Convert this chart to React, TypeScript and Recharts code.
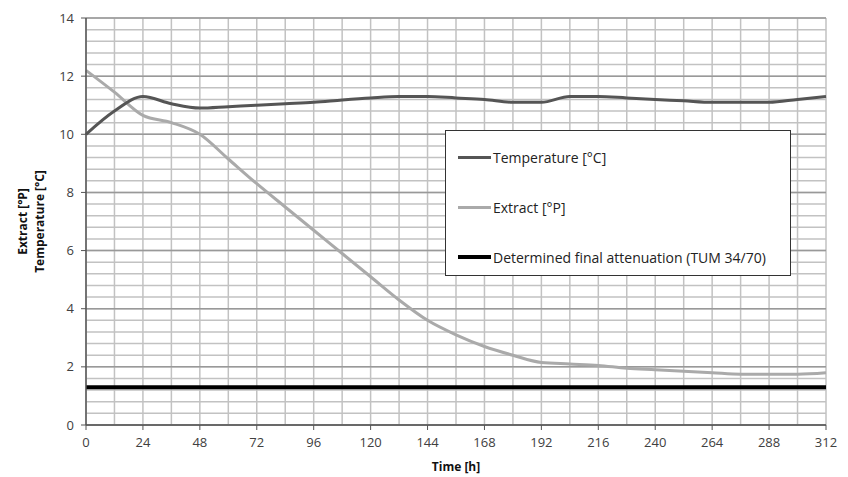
import { CartesianGrid, Legend, Line, LineChart, XAxis, YAxis } from "recharts";

const hours = [0, 12, 24, 36, 48, 60, 72, 84, 96, 108, 120, 132, 144, 156, 168, 180, 192, 204, 216, 228, 240, 252, 264, 276, 288, 300, 312];
const temperature = [10.0, 10.8, 11.3, 11.05, 10.9, 10.95, 11.0, 11.05, 11.1, 11.18, 11.25, 11.3, 11.3, 11.25, 11.2, 11.1, 11.1, 11.3, 11.3, 11.25, 11.2, 11.15, 11.1, 11.1, 11.1, 11.2, 11.3];
const extract = [12.2, 11.45, 10.65, 10.4, 10.0, 9.15, 8.3, 7.5, 6.7, 5.9, 5.1, 4.3, 3.6, 3.1, 2.7, 2.4, 2.15, 2.1, 2.05, 1.95, 1.9, 1.85, 1.8, 1.75, 1.75, 1.75, 1.8];
const attenuation = [1.3, 1.3, 1.3, 1.3, 1.3, 1.3, 1.3, 1.3, 1.3, 1.3, 1.3, 1.3, 1.3, 1.3, 1.3, 1.3, 1.3, 1.3, 1.3, 1.3, 1.3, 1.3, 1.3, 1.3, 1.3, 1.3, 1.3];

const xTicks = [0, 24, 48, 72, 96, 120, 144, 168, 192, 216, 240, 264, 288, 312];
const yTicks = [0, 2, 4, 6, 8, 10, 12, 14];
const xMinorTicks = hours;
const yMinorTicks = Array.from({ length: 36 }, (_, i) => Math.round(i * 0.4 * 10) / 10);
const yMax = 14;

const seriesNames = ["Temperature [°C]", "Extract [°P]", "Determined final attenuation (TUM 34/70)"];
const seriesColors = ["#555555", "#aaaaaa", "#000000"];

const data = hours.map((h, i) => ({
  hour: h,
  temperature: temperature[i],
  extract: extract[i],
  attenuation: attenuation[i],
}));

const font = "'Open Sans', sans-serif";
const tickStyle = { fontSize: 13, fill: "#404040", fontFamily: font };

// grid rows placed on the y axis scale when available
function rowsFor(values: number[]) {
  return (props: any) => {
    const scale = props?.yAxis?.scale;
    const off = props.offset;
    return values.map((v) =>
      typeof scale === "function" ? scale(v) : off.top + off.height * (1 - v / yMax)
    );
  };
}

function LegendBox() {
  return (
    <div
      style={{
        width: 346,
        height: 146,
        border: "1px solid #333",
        background: "#fff",
        fontFamily: font,
        fontSize: 14,
        color: "#222",
        boxSizing: "border-box",
        paddingTop: 1,
      }}
    >
      {seriesNames.map((name, i) => (
        <div key={name} style={{ display: "flex", alignItems: "center", height: 50 }}>
          <span
            style={{
              display: "inline-block",
              width: 33,
              height: i === 2 ? 4 : 3,
              background: seriesColors[i],
              marginLeft: 12,
              marginRight: 2,
            }}
          />
          <span>{name}</span>
        </div>
      ))}
    </div>
  );
}

function YLabel(props: any) {
  const { viewBox } = props;
  const cy = viewBox.y + viewBox.height / 2;
  return (
    <g fontFamily={font} fontSize={12} fontWeight="bold" fill="#111" textAnchor="middle">
      <text x={22} y={cy} transform={`rotate(-90, 22, ${cy})`} dominantBaseline="central">
        Extract [°P]
      </text>
      <text x={39} y={cy} transform={`rotate(-90, 39, ${cy})`} dominantBaseline="central">
        Temperature [°C]
      </text>
    </g>
  );
}

export default function App() {
  return (
    <div style={{ position: "absolute", left: 0, top: 0, width: 848, height: 477, background: "#fff" }}>
      <LineChart width={848} height={477} data={data} margin={{ top: 18, right: 22, left: 0, bottom: 0 }}>
        <XAxis xAxisId="minor" dataKey="hour" type="number" domain={[0, 312]} ticks={xMinorTicks} interval={0} hide />
        <CartesianGrid xAxisId="minor" horizontalCoordinatesGenerator={rowsFor(yMinorTicks)} stroke="#c2c2c2" strokeWidth={1.5} />
        <XAxis
          dataKey="hour"
          type="number"
          domain={[0, 312]}
          ticks={xTicks}
          interval={0}
          height={52}
          tick={tickStyle}
          tickSize={5}
          tickMargin={8}
          axisLine={{ stroke: "#555", strokeWidth: 1.5 }}
          tickLine={{ stroke: "#555" }}
          label={{ value: "Time [h]", position: "insideBottom", offset: 6, style: { fontFamily: font, fontSize: 12, fontWeight: "bold", fill: "#111" } }}
        />
        <YAxis
          type="number"
          domain={[0, yMax]}
          ticks={yTicks}
          interval={0}
          width={86}
          tick={tickStyle}
          tickSize={5}
          tickMargin={7}
          axisLine={{ stroke: "#555", strokeWidth: 1.5 }}
          tickLine={{ stroke: "#555" }}
          label={<YLabel />}
        />
        <CartesianGrid horizontalCoordinatesGenerator={rowsFor(yTicks)} stroke="#999999" strokeWidth={1.5} vertical={false} />
        <Line type="monotone" dataKey="attenuation" stroke={seriesColors[2]} strokeWidth={4} dot={false} isAnimationActive={false} name={seriesNames[2]} />
        <Line type="monotone" dataKey="extract" stroke={seriesColors[1]} strokeWidth={3} dot={false} isAnimationActive={false} name={seriesNames[1]} />
        <Line type="monotone" dataKey="temperature" stroke={seriesColors[0]} strokeWidth={3} dot={false} isAnimationActive={false} name={seriesNames[0]} />
        <Legend
          layout="vertical"
          align="center"
          verticalAlign="middle"
          content={<LegendBox />}
          wrapperStyle={{ left: 445, top: 130, width: 348, height: 148 }}
        />
      </LineChart>
    </div>
  );
}
